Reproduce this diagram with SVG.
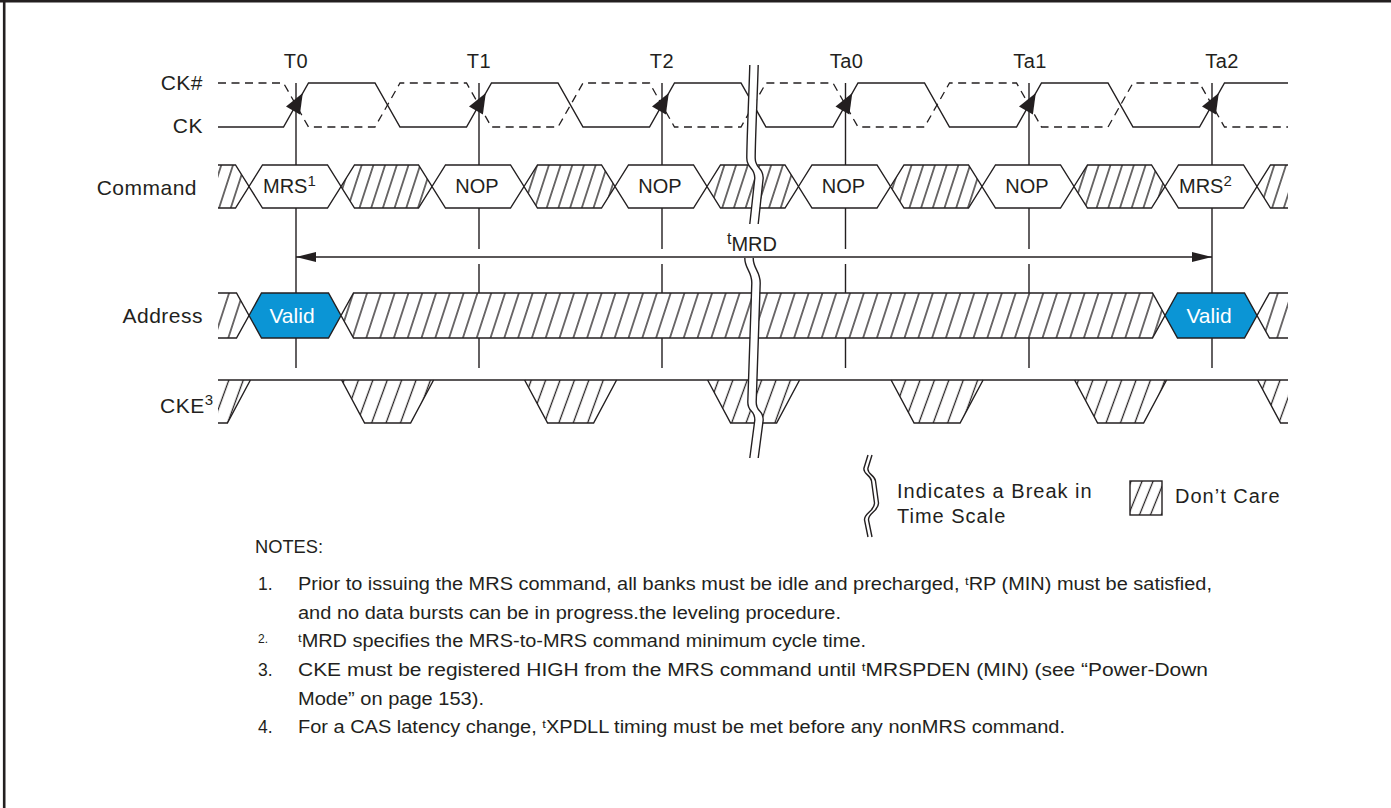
<svg xmlns="http://www.w3.org/2000/svg" xmlns:xlink="http://www.w3.org/1999/xlink" width="1391" height="808" viewBox="0 0 1391 808">
<style>
.ln{stroke:#231f20;stroke-width:1.4;fill:none}
.dash{stroke:#231f20;stroke-width:1.3;fill:none;stroke-dasharray:8 5.5}
.box{fill:#fff;stroke:#231f20;stroke-width:1.4}
.hc{fill:url(#hc);stroke:none}
.ha{fill:url(#ha);stroke:none}
.hk{fill:url(#hk);stroke:none}
.valid{fill:#0b95d5;stroke:#231f20;stroke-width:1.4}
.t{font-family:"Liberation Sans",Arial,sans-serif;fill:#231f20}
.lab{font-size:21px;letter-spacing:0.5px}
.tm{font-size:20px;text-anchor:middle;letter-spacing:0.5px}
.cmd{font-size:20px}
.vt{font-size:21px;fill:#fff;text-anchor:middle;font-family:"Liberation Sans",Arial,sans-serif}
.note{font-size:17.5px}
.leg{font-size:20px;letter-spacing:1px}
.arrow{fill:#231f20}
</style>
<defs>
<pattern id="hc" patternUnits="userSpaceOnUse" width="11.7" height="20" patternTransform="skewX(-18)">
<rect width="11.7" height="20" fill="#fff"/>
<line x1="5.85" y1="-1" x2="5.85" y2="21" stroke="#231f20" stroke-width="1.35"/>
</pattern>
<pattern id="ha" patternUnits="userSpaceOnUse" width="13.8" height="20" patternTransform="skewX(-18)">
<rect width="13.8" height="20" fill="#fff"/>
<line x1="6.9" y1="-1" x2="6.9" y2="21" stroke="#231f20" stroke-width="1.35"/>
</pattern>
<pattern id="hk" patternUnits="userSpaceOnUse" width="14.4" height="20" patternTransform="skewX(-20)">
<rect width="14.4" height="20" fill="#fff"/>
<line x1="7.2" y1="-1" x2="7.2" y2="21" stroke="#231f20" stroke-width="1.35"/>
</pattern>
<pattern id="hl" patternUnits="userSpaceOnUse" width="11" height="20" patternTransform="skewX(-22)">
<rect width="11" height="20" fill="#fff"/>
<line x1="5.5" y1="-1" x2="5.5" y2="21" stroke="#231f20" stroke-width="1.35"/>
</pattern>
<marker id="ah" markerUnits="userSpaceOnUse" markerWidth="22" markerHeight="12" refX="20" refY="5" orient="auto-start-reverse">
<path d="M0,0 L20,5 L0,10 Z" fill="#231f20"/>
</marker>
<path id="brk1" d="M754,65 C753,100 751,140 751,158 C751,169 759,167 759,178 L754,224"/>
<path id="brk2" d="M749,258 C749,269 756,271 756,283 L752,402 C752,413 759,409 759,420 L754,458"/>
<path id="lbrk" d="M870,455 L866,468 C864.5,474 873,475 873.5,481 L876.5,503 C877,511 866,513 866.5,520 L870,537"/>
</defs>

<rect x="0" y="0" width="1391" height="808" fill="#fff"/>
<g id="frame">
<line x1="4.2" y1="0" x2="4.2" y2="808" stroke="#231f20" stroke-width="2.6"/>
<line x1="0" y1="1.2" x2="1391" y2="1.2" stroke="#231f20" stroke-width="2.4"/>
</g>

<g id="connectors">
<path class="ln" d="M296,83V165M296,208V293M296,338V368"/>
<path class="ln" d="M479,83V165M479,208V249M479,264V293M479,338V368"/>
<path class="ln" d="M662,83V165M662,208V249M662,264V293M662,338V368"/>
<path class="ln" d="M845.5,83V165M845.5,208V249M845.5,264V293M845.5,338V368"/>
<path class="ln" d="M1029,83V165M1029,208V249M1029,264V293M1029,338V368"/>
<path class="ln" d="M1212,83V165M1212,208V293M1212,338V368"/>
</g>

<g id="labels">
<text class="t lab" x="203" y="90" text-anchor="end">CK#</text>
<text class="t lab" x="203" y="133" text-anchor="end">CK</text>
<text class="t lab" x="197" y="195" text-anchor="end">Command</text>
<text class="t lab" x="203" y="323" text-anchor="end">Address</text>
<text class="t lab" x="160" y="413">CKE<tspan font-size="15" dy="-8">3</tspan></text>
</g>

<g id="time-labels">
<text class="t tm" x="296" y="68">T0</text>
<text class="t tm" x="479" y="68">T1</text>
<text class="t tm" x="662" y="68">T2</text>
<text class="t tm" x="846.5" y="68">Ta0</text>
<text class="t tm" x="1030" y="68">Ta1</text>
<text class="t tm" x="1222" y="68">Ta2</text>
</g>

<g id="clock">
<path class="ln" d="M218,127 L283.5,127 L308.5,83 L375,83 L400,127 L466.5,127 L491.5,83 L558,83 L583,127 L649.5,127 L674.5,83 L741,83 L766,127 L833,127 L858,83 L924.5,83 L949.5,127 L1016.5,127 L1041.5,83 L1108,83 L1133,127 L1199.5,127 L1224.5,83 L1288,83"/>
<path class="dash" d="M218,83 L283.5,83 L308.5,127 L375,127 L400,83 L466.5,83 L491.5,127 L558,127 L583,83 L649.5,83 L674.5,127 L741,127 L766,83 L833,83 L858,127 L924.5,127 L949.5,83 L1016.5,83 L1041.5,127 L1108,127 L1133,83 L1199.5,83 L1224.5,127 L1288,127"/>
<polygon class="arrow" points="302.8,93 299.9,114.4 286,106.5"/>
<polygon class="arrow" points="485.8,93 482.9,114.4 469,106.5"/>
<polygon class="arrow" points="668.8,93 665.9,114.4 652,106.5"/>
<polygon class="arrow" points="852.3,93 849.4,114.4 835.5,106.5"/>
<polygon class="arrow" points="1035.8,93 1032.9,114.4 1019,106.5"/>
<polygon class="arrow" points="1218.8,93 1215.9,114.4 1202,106.5"/>
</g>

<g id="command">
<polygon class="hc" points="218,165 235.5,165 249,186.5 235.5,208 218,208"/>
<polyline class="ln" points="218,165 235.5,165 249,186.5 235.5,208 218,208"/>
<polygon class="box" points="249,186.5 262.5,165 327.5,165 341,186.5 327.5,208 262.5,208"/>
<polygon class="hc" points="341,186.5 354.5,165 418.5,165 432,186.5 418.5,208 354.5,208"/>
<polygon class="ln" points="341,186.5 354.5,165 418.5,165 432,186.5 418.5,208 354.5,208"/>
<polygon class="box" points="432,186.5 445.5,165 510.5,165 524,186.5 510.5,208 445.5,208"/>
<polygon class="hc" points="524,186.5 537.5,165 601.5,165 615,186.5 601.5,208 537.5,208"/>
<polygon class="ln" points="524,186.5 537.5,165 601.5,165 615,186.5 601.5,208 537.5,208"/>
<polygon class="box" points="615,186.5 628.5,165 693.5,165 707,186.5 693.5,208 628.5,208"/>
<polygon class="hc" points="707,186.5 720.5,165 785,165 798.5,186.5 785,208 720.5,208"/>
<polygon class="ln" points="707,186.5 720.5,165 785,165 798.5,186.5 785,208 720.5,208"/>
<polygon class="box" points="798.5,186.5 812,165 877,165 890.5,186.5 877,208 812,208"/>
<polygon class="hc" points="890.5,186.5 904,165 968.5,165 982,186.5 968.5,208 904,208"/>
<polygon class="ln" points="890.5,186.5 904,165 968.5,165 982,186.5 968.5,208 904,208"/>
<polygon class="box" points="982,186.5 995.5,165 1060.5,165 1074,186.5 1060.5,208 995.5,208"/>
<polygon class="hc" points="1074,186.5 1087.5,165 1151.5,165 1165,186.5 1151.5,208 1087.5,208"/>
<polygon class="ln" points="1074,186.5 1087.5,165 1151.5,165 1165,186.5 1151.5,208 1087.5,208"/>
<polygon class="box" points="1165,186.5 1178.5,165 1243.5,165 1257,186.5 1243.5,208 1178.5,208"/>
<polygon class="hc" points="1288,165 1270.5,165 1257,186.5 1270.5,208 1288,208"/>
<polyline class="ln" points="1288,165 1270.5,165 1257,186.5 1270.5,208 1288,208"/>
<text class="t cmd" x="263" y="193">MRS<tspan font-size="15" dy="-7">1</tspan></text>
<text class="t cmd" x="477" y="193" text-anchor="middle">NOP</text>
<text class="t cmd" x="660" y="193" text-anchor="middle">NOP</text>
<text class="t cmd" x="843.5" y="193" text-anchor="middle">NOP</text>
<text class="t cmd" x="1027" y="193" text-anchor="middle">NOP</text>
<text class="t cmd" x="1179" y="193">MRS<tspan font-size="15" dy="-7">2</tspan></text>
</g>

<g id="address">
<polygon class="ha" points="218,293 236.5,293 249,315.5 236.5,338 218,338"/>
<polyline class="ln" points="218,293 236.5,293 249,315.5 236.5,338 218,338"/>
<polygon class="valid" points="249,315.5 261.5,293 328.5,293 341,315.5 328.5,338 261.5,338"/>
<polygon class="ha" points="341,315.5 353.5,293 1152.5,293 1165,315.5 1152.5,338 353.5,338"/>
<polygon class="ln" points="341,315.5 353.5,293 1152.5,293 1165,315.5 1152.5,338 353.5,338"/>
<polygon class="valid" points="1165,315.5 1177.5,293 1244.5,293 1257,315.5 1244.5,338 1177.5,338"/>
<polygon class="ha" points="1288,293 1269.5,293 1257,315.5 1269.5,338 1288,338"/>
<polyline class="ln" points="1288,293 1269.5,293 1257,315.5 1269.5,338 1288,338"/>
<text class="vt" x="292" y="323">Valid</text>
<text class="vt" x="1209" y="323">Valid</text>
</g>

<g id="cke">
<polygon class="hk" points="218,380 250.4,380 227.4,423 218,423"/>
<polyline class="ln" points="250.4,380 227.4,423 218,423"/>
<polygon class="hk" points="341.6,380 433.6,380 410.6,423 364.6,423"/>
<polyline class="ln" points="341.6,380 364.6,423 410.6,423 433.6,380"/>
<polygon class="hk" points="524.6,380 616.6,380 593.6,423 547.6,423"/>
<polyline class="ln" points="524.6,380 547.6,423 593.6,423 616.6,380"/>
<polygon class="hk" points="707.6,380 799.6,380 776.6,423 730.6,423"/>
<polyline class="ln" points="707.6,380 730.6,423 776.6,423 799.6,380"/>
<polygon class="hk" points="891.1,380 983.1,380 960.1,423 914.1,423"/>
<polyline class="ln" points="891.1,380 914.1,423 960.1,423 983.1,380"/>
<polygon class="hk" points="1074.6,380 1166.6,380 1143.6,423 1097.6,423"/>
<polyline class="ln" points="1074.6,380 1097.6,423 1143.6,423 1166.6,380"/>
<polygon class="hk" points="1257.6,380 1288,380 1288,423 1280.6,423"/>
<polyline class="ln" points="1257.6,380 1280.6,423 1288,423"/>
<line class="ln" x1="218" y1="380" x2="1288" y2="380"/>
</g>

<g id="break">
<use xlink:href="#brk1" stroke="#fff" stroke-width="8" fill="none"/>
<use xlink:href="#brk2" stroke="#fff" stroke-width="8" fill="none"/>
<use xlink:href="#brk1" class="ln" transform="translate(-4.2,0)"/>
<use xlink:href="#brk1" class="ln" transform="translate(4.2,0)"/>
<use xlink:href="#brk2" class="ln" transform="translate(-4.2,0)"/>
<use xlink:href="#brk2" class="ln" transform="translate(4.2,0)"/>
</g>

<g id="tmrd">
<line class="ln" x1="296" y1="257" x2="1212" y2="257" marker-start="url(#ah)" marker-end="url(#ah)"/>
<text class="t" x="727" y="244" font-size="16">t<tspan font-size="20" dy="7">MRD</tspan></text>
</g>

<g id="legend">
<use xlink:href="#lbrk" class="ln" transform="translate(-2,0)"/>
<use xlink:href="#lbrk" class="ln" transform="translate(2,0)"/>
<text class="t leg" x="897" y="498">Indicates a Break in</text>
<text class="t leg" x="897" y="523">Time Scale</text>
<rect x="1130" y="481" width="32" height="34" fill="url(#hl)" stroke="#231f20" stroke-width="1.4"/>
<text class="t leg" x="1175" y="503">Don’t Care</text>
</g>

<g id="notes">
<text class="t note" x="255" y="553" textLength="68" lengthAdjust="spacingAndGlyphs">NOTES:</text>
<text class="t note" x="258" y="590">1.</text>
<text class="t note" x="298" y="590" textLength="914" lengthAdjust="spacingAndGlyphs">Prior to issuing the MRS command, all banks must be idle and precharged, <tspan font-size="11.5" dy="-5">t</tspan><tspan dy="5">RP (MIN) must be satisfied,</tspan></text>
<text class="t note" x="298" y="619" textLength="543" lengthAdjust="spacingAndGlyphs">and no data bursts can be in progress.the leveling procedure.</text>
<text class="t" x="258" y="643" font-size="12">2.</text>
<text class="t note" x="298" y="647" textLength="568" lengthAdjust="spacingAndGlyphs"><tspan font-size="11.5" dy="-5">t</tspan><tspan dy="5">MRD specifies the MRS-to-MRS command minimum cycle time.</tspan></text>
<text class="t note" x="258" y="676">3.</text>
<text class="t note" x="298" y="676" textLength="910" lengthAdjust="spacingAndGlyphs">CKE must be registered HIGH from the MRS command until <tspan font-size="11.5" dy="-5">t</tspan><tspan dy="5">MRSPDEN (MIN) (see “Power-Down</tspan></text>
<text class="t note" x="298" y="705" textLength="186" lengthAdjust="spacingAndGlyphs">Mode” on page 153).</text>
<text class="t note" x="258" y="733">4.</text>
<text class="t note" x="298" y="733" textLength="767" lengthAdjust="spacingAndGlyphs">For a CAS latency change, <tspan font-size="11.5" dy="-5">t</tspan><tspan dy="5">XPDLL timing must be met before any nonMRS command.</tspan></text>
</g>
</svg>
